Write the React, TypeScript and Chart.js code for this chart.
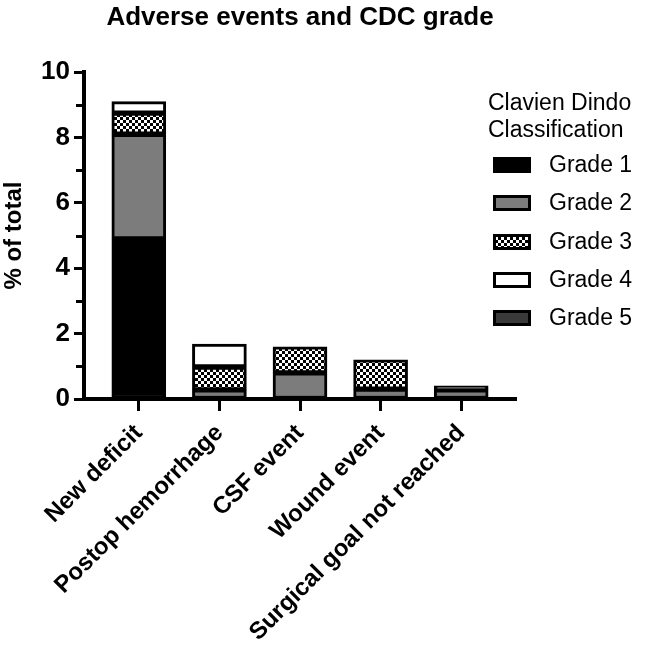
import React, { useEffect, useRef } from 'react';
import { Chart, registerables } from 'chart.js';

Chart.register(...registerables);

const FONT = "'Liberation Sans', Arial, Helvetica, sans-serif";

const chartTitle = 'Adverse events and CDC grade';
const yAxisTitle = '% of total';
const legendTitle = ['Clavien Dindo', 'Classification'];

const categories = ['New deficit', 'Postop hemorrhage', 'CSF event', 'Wound event', 'Surgical goal not reached'];
const gradeLabels = ['Grade 1', 'Grade 2', 'Grade 3', 'Grade 4', 'Grade 5'];

const grade1 = [4.9, null, null, null, null];
const grade2 = [3.2, 0.28, 0.8, 0.3, 0.28];
const grade3 = [0.65, 0.7, 0.8, 0.9, null];
const grade4 = [0.35, 0.7, null, null, null];
const grade5 = [null, null, null, null, 0.12];

const yMajorTicks = [0, 2, 4, 6, 8, 10];
const yMinorTicks = [1, 3, 5, 7, 9];

export default function App() {
  const ref = useRef<HTMLCanvasElement>(null);

  useEffect(() => {
    const canvas = ref.current!;
    const ctx = canvas.getContext('2d')!;

    const tile = document.createElement('canvas');
    tile.width = 6;
    tile.height = 6;
    const tg = tile.getContext('2d')!;
    tg.fillStyle = '#000';
    tg.fillRect(0, 0, 6, 6);
    tg.fillStyle = '#fff';
    tg.fillRect(0, 0, 3, 3);
    tg.fillRect(3, 3, 3, 3);
    const checker = ctx.createPattern(tile, 'repeat')!;

    const fills: any[] = ['#000000', '#7c7c7c', checker, '#ffffff', '#3a3a3a'];
    const series = [grade1, grade2, grade3, grade4, grade5];

    const datasets = series.map((s, k) => ({
      label: gradeLabels[k],
      data: s.map((v, i) => ({ x: i, y: v })),
      backgroundColor: fills[k],
      borderColor: '#000',
      borderWidth: 3,
      borderSkipped: false as any,
      barThickness: 54,
    }));

    const minorTickPlugin = {
      id: 'minorTicks',
      afterDraw(chart: any) {
        const s = chart.scales.y;
        const c = chart.ctx;
        const x0 = chart.chartArea.left - 2;
        c.save();
        c.strokeStyle = '#000';
        c.lineWidth = 3;
        yMinorTicks.forEach((v) => {
          const y = Math.round(s.getPixelForValue(v)) + 0.5;
          c.beginPath();
          c.moveTo(x0, y);
          c.lineTo(x0 - 6, y);
          c.stroke();
        });
        c.restore();
      },
    };

    const legendPlugin = {
      id: 'customLegend',
      afterDraw(chart: any) {
        const c = chart.ctx;
        const left = chart.chartArea.right - 28;
        c.save();
        c.font = `23px ${FONT}`;
        c.textBaseline = 'middle';
        c.textAlign = 'left';
        c.fillStyle = '#000';
        legendTitle.forEach((t, i) => c.fillText(t, left, 104 + i * 27));
        chart.data.datasets.forEach((ds: any, i: number) => {
          const y = Math.round(165 + i * 38.3);
          c.fillStyle = ds.backgroundColor;
          c.fillRect(left + 5, y - 8, 38, 16);
          c.lineWidth = 3;
          c.strokeStyle = '#000';
          c.strokeRect(left + 6.5, y - 6.5, 35, 13);
          c.fillStyle = '#000';
          c.fillText(ds.label, left + 61, y + 1);
        });
        c.restore();
      },
    };

    const chart = new Chart(ctx, {
      type: 'bar',
      data: { datasets: datasets as any },
      options: {
        animation: false,
        responsive: false,
        layout: { padding: { right: 130, left: 0, top: 0, bottom: 0 } },
        plugins: {
          legend: { display: false },
          tooltip: { enabled: false },
          title: {
            display: true,
            text: chartTitle,
            fullSize: false,
            color: '#000',
            font: { family: FONT, size: 26, weight: 'bold' },
            padding: { top: 2, bottom: 39 },
          },
        },
        scales: {
          x: {
            type: 'linear',
            stacked: true,
            offset: false,
            bounds: 'data',
            min: -0.68,
            max: 4.68,
            afterBuildTicks: (s: any) => {
              s.ticks = categories.map((_, i) => ({ value: i }));
            },
            afterFit: (s: any) => {
              s.height = 251;
            },
            border: { display: true, color: '#000', width: 4 },
            grid: { offset: false, drawOnChartArea: false, drawTicks: true, tickLength: 12, tickWidth: 3, tickColor: '#000' },
            ticks: {
              autoSkip: false,
              maxRotation: 45,
              minRotation: 45,
              color: '#000',
              padding: 8,
              font: { family: FONT, size: 24, weight: 'bold' },
              callback: (v: any) => categories[Math.round(Number(v))] ?? '',
            },
          },
          y: {
            type: 'linear',
            stacked: true,
            min: 0,
            max: 10,
            afterBuildTicks: (s: any) => {
              s.ticks = [...yMajorTicks, ...yMinorTicks].sort((a, b) => a - b).map((v) => ({ value: v }));
            },
            afterFit: (s: any) => {
              s.width = 84;
            },
            border: { display: true, color: '#000', width: 4 },
            grid: {
              drawOnChartArea: false,
              drawTicks: true,
              tickLength: 10,
              tickWidth: 3,
              tickColor: (c: any) => (c.tick && yMajorTicks.includes(c.tick.value) ? '#000' : 'rgba(0,0,0,0)'),
            },
            ticks: {
              autoSkip: false,
              color: '#000',
              padding: 4,
              font: { family: FONT, size: 26, weight: 'bold' },
              callback: (v: any) => (yMajorTicks.includes(Number(v)) ? String(v) : ''),
            },
            title: {
              display: true,
              text: yAxisTitle,
              color: '#000',
              font: { family: FONT, size: 24, weight: 'bold' },
              padding: { top: 0, bottom: 0 },
            },
          },
        },
      } as any,
      plugins: [minorTickPlugin, legendPlugin],
    });

    return () => chart.destroy();
  }, []);

  return (
    <div style={{ position: 'fixed', left: 0, top: 0, width: 646, height: 650, background: '#fff' }}>
      <canvas ref={ref} width={646} height={650} style={{ display: 'block' }} />
    </div>
  );
}
